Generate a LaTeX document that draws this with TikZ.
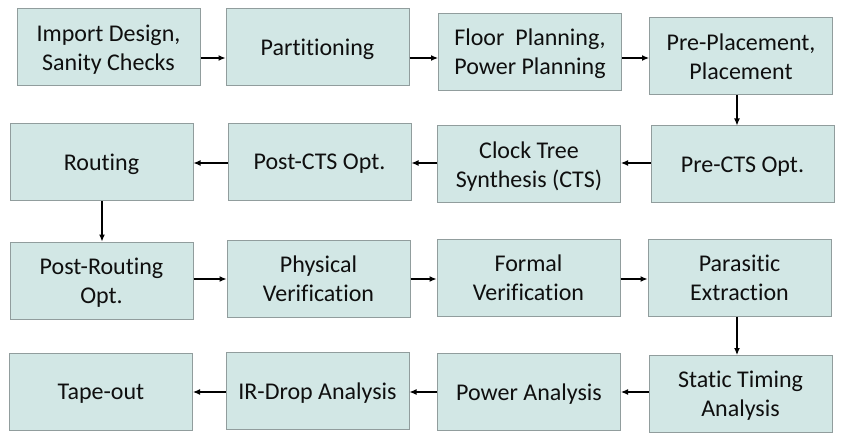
\documentclass[tikz,border=0pt]{standalone}
\usepackage{fontspec}
\setmainfont{Carlito}[Ligatures=NoCommon]
\usetikzlibrary{arrows.meta}
\definecolor{boxfill}{RGB}{210,231,229}
\definecolor{boxline}{RGB}{145,157,157}
\definecolor{txt}{RGB}{15,15,15}
\begin{document}
\begin{tikzpicture}[x=1pt,y=-1pt,
  stepbox/.style={draw=boxline, line width=1pt, fill=boxfill, minimum width=183pt, minimum height=77pt,
    inner sep=0pt, align=center, text=txt, text depth=0pt, font=\fontsize{24}{29}\selectfont},
  flow/.style={-{Latex[length=7pt,width=6pt]}, line width=1.2pt, black}]
\useasboundingbox (0,0) rectangle (844,441);
\fill[white] (0,0) rectangle (844,441);
% row 1
\node[stepbox] (b1) at (108.5,47.5) {Import Design,\\Sanity Checks};
\node[stepbox] (b2) at (317.5,47.5) {Partitioning};
\node[stepbox] (b3) at (530,52) {Floor\ \ Planning,\\Power Planning};
\node[stepbox] (b4) at (741,56.5) {Pre-Placement,\\Placement};
% row 2
\node[stepbox] (b5) at (742.5,164.5) {Pre-CTS Opt.};
\node[stepbox] (b6) at (529,164.5) {Clock Tree\\Synthesis (CTS)};
\node[stepbox] (b7) at (319.5,162) {Post-CTS Opt.};
\node[stepbox] (b8) at (101.5,162.5) {Routing};
% row 3
\node[stepbox] (b9) at (101.5,280.5) {Post-Routing\\Opt.};
\node[stepbox] (b10) at (318.5,279) {Physical\\Verification};
\node[stepbox] (b11) at (528.5,277.5) {Formal\\Verification};
\node[stepbox] (b12) at (739.5,277.5) {Parasitic\\Extraction};
% row 4
\node[stepbox] (b13) at (740.5,394) {Static Timing\\Analysis};
\node[stepbox] (b14) at (529,392) {Power Analysis};
\node[stepbox] (b15) at (317.5,391) {IR-Drop Analysis};
\node[stepbox] (b16) at (101,391.5) {Tape-out};
% arrow levels
\coordinate (r1) at (0,58);
\coordinate (r2) at (0,163);
\coordinate (r3) at (0,279);
\coordinate (r4) at (0,392);
\coordinate (c1) at (737,0);
\coordinate (c2) at (102,0);
% arrows
\draw[flow] (b1.east |- r1) -- (b2.west |- r1);
\draw[flow] (b2.east |- r1) -- (b3.west |- r1);
\draw[flow] (b3.east |- r1) -- (b4.west |- r1);
\draw[flow] (c1 |- b4.south) -- (c1 |- b5.north);
\draw[flow] (b5.west |- r2) -- (b6.east |- r2);
\draw[flow] (b6.west |- r2) -- (b7.east |- r2);
\draw[flow] (b7.west |- r2) -- (b8.east |- r2);
\draw[flow] (c2 |- b8.south) -- (c2 |- b9.north);
\draw[flow] (b9.east |- r3) -- (b10.west |- r3);
\draw[flow] (b10.east |- r3) -- (b11.west |- r3);
\draw[flow] (b11.east |- r3) -- (b12.west |- r3);
\draw[flow] (c1 |- b12.south) -- (c1 |- b13.north);
\draw[flow] (b13.west |- r4) -- (b14.east |- r4);
\draw[flow] (b14.west |- r4) -- (b15.east |- r4);
\draw[flow] (b15.west |- r4) -- (b16.east |- r4);
\end{tikzpicture}
\end{document}
